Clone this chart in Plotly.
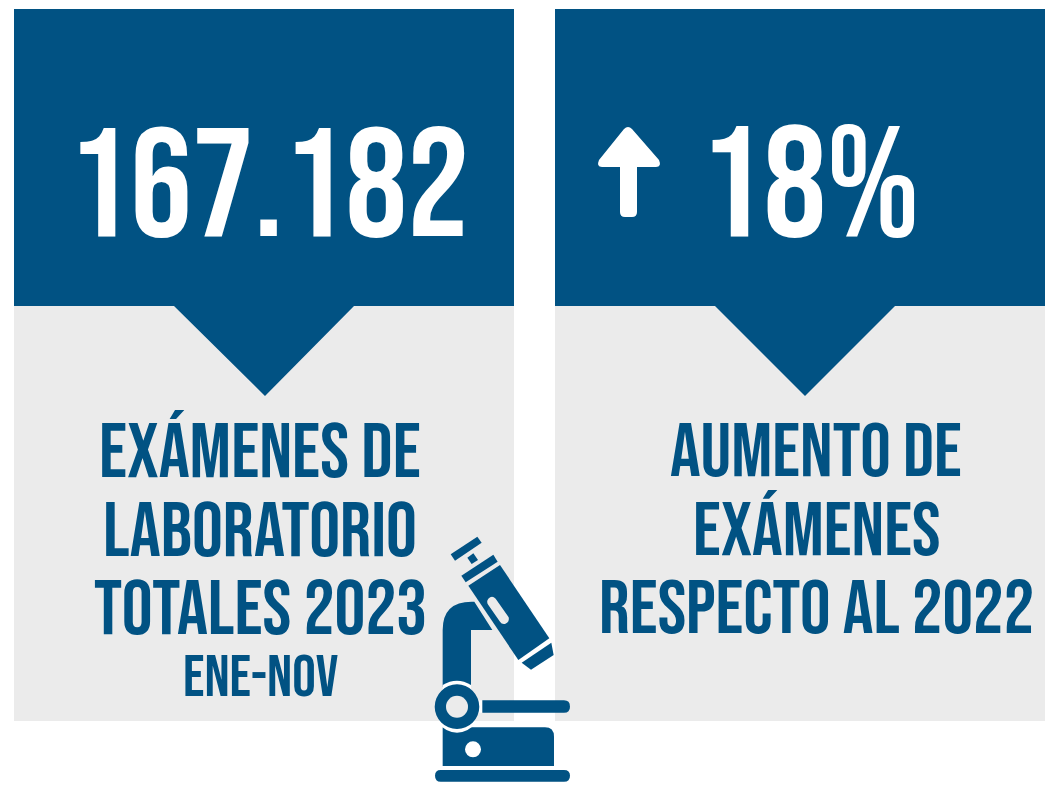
import plotly.graph_objects as go

BIG_VALUES = ["167.182", "18%"]
LEFT_LINES = ["EXÁMENES DE", "LABORATORIO", "TOTALES 2023"]
LEFT_SUB = "ENE-NOV"
RIGHT_LINES = ["AUMENTO DE", "EXÁMENES", "RESPECTO AL 2022"]

BLUE = "#015283"
GRAY = "#EBEBEB"
WHITE = "#FFFFFF"
FONT = "Bebas Neue, Liberation Sans, sans-serif"

fig = go.Figure()
shapes = []


def poly(pts, color):
    d = "M" + " L".join(f"{x},{y}" for x, y in pts) + " Z"
    shapes.append(dict(type="path", path=d, fillcolor=color, line_width=0, xref="x", yref="y", layer="above"))


def path(d, color):
    shapes.append(dict(type="path", path=d, fillcolor=color, line_width=0, xref="x", yref="y", layer="above"))


def circ(cx, cy, r, color):
    shapes.append(dict(type="circle", x0=cx - r, x1=cx + r, y0=cy - r, y1=cy + r, fillcolor=color,
                       line_width=0, xref="x", yref="y", layer="above"))


def Z(x, y):
    return (round(420 + x / 3, 2), round(520 + y / 3, 2))


def zpath(parts, color):
    out = []
    for cmd, *pts in parts:
        out.append(cmd + " ".join("%s,%s" % Z(*p) for p in pts))
    path(" ".join(out) + " Z", color)


# panels
poly([(14, 306), (514, 306), (514, 721), (14, 721)], GRAY)
poly([(555, 306), (1045, 306), (1045, 721), (555, 721)], GRAY)
poly([(14, 9), (514, 9), (514, 306), (354, 306), (265, 396), (174, 306), (14, 306)], BLUE)
poly([(555, 9), (1045, 9), (1045, 306), (895, 306), (805, 396), (715, 306), (555, 306)], BLUE)

# arrow
path("M624,129 Q628,125 632,129 L659,160 Q662,167 656,167 L637,167 L637,212 Q637,217 632,217 "
     "L625,217 Q620,217 620,212 L620,167 L602,167 Q596,167 599,160 Z", WHITE)

# microscope
zpath([("M", (68, 500)), ("L", (68, 330)), ("Q", (68, 245), (155, 245)), ("L", (163, 245)), ("L", (217, 330)),
       ("L", (153, 330)), ("L", (153, 500))], BLUE)
zpath([("M", (68, 622)), ("L", (375, 622)), ("Q", (402, 622), (402, 650)), ("L", (402, 738)), ("L", (68, 738))], BLUE)
circ(*Z(159, 688), 8, WHITE)
# thin white cut between the arm and the wheel, and between the base and the wheel
path("M442.67,685 Q457,676.4 471,685 L471,700 L442.67,700 Z", WHITE)
path("M435.3,721 Q457,744.4 478.7,721 Z", WHITE)
poly([(478, 700.3), (482.5, 700.3), (482.5, 712.7), (478, 712.7)], WHITE)
circ(*Z(111, 560), 22.3, BLUE)
circ(*Z(111, 560), 11, GRAY)
zpath([("M", (187, 541)), ("L", (432, 541)), ("Q", (450, 541), (450, 560)), ("Q", (450, 578), (432, 578)),
       ("L", (187, 578))], BLUE)
zpath([("M", (62, 750)), ("L", (432, 750)), ("Q", (450, 750), (450, 767)), ("Q", (450, 785), (432, 785)),
       ("L", (62, 785)), ("Q", (45, 785), (45, 767)), ("Q", (45, 750), (62, 750))], BLUE)
for pts in ([(92, 103), (172, 50), (185, 68), (105, 122)],
            [(142, 113), (160, 100), (174, 120), (155, 132)],
            [(124, 167), (220, 104), (233, 125), (137, 187)],
            [(145, 197), (240, 135), (388, 355), (295, 420)],
            [(305, 428), (394, 368), (401, 405), (333, 449)]):
    poly([Z(*p) for p in pts], BLUE)
zpath([("M", (205, 236)), ("Q", (216, 224), (227, 236)), ("L", (266, 292)), ("Q", (270, 306), (255, 312)),
       ("Q", (245, 314), (240, 305)), ("L", (205, 255)), ("Q", (198, 245), (205, 236))], GRAY)

ann = []


def text(s, x, base, size, color):
    ann.append(dict(text=s, x=x, y=base - size * 0.305, xref="x", yref="y", showarrow=False,
                    xanchor="center", yanchor="middle", font=dict(family=FONT, size=size, color=color)))


fig.add_trace(go.Scatter(x=[0, 1045], y=[0, 785], mode="markers", marker_opacity=0, hoverinfo="skip", showlegend=False))

text(BIG_VALUES[0], 268, 237, 155, WHITE)
text(BIG_VALUES[1], 809, 237, 158, WHITE)
for s, b in zip(LEFT_LINES, [478, 557, 635]):
    text(s, 260, b, 77.2, BLUE)
text(LEFT_SUB, 260, 696, 59, BLUE)
for s, b in zip(RIGHT_LINES, [476, 555, 633]):
    text(s, 816, b, 76.4, BLUE)

fig.update_layout(width=1045, height=785, margin=dict(l=0, r=0, t=0, b=0), paper_bgcolor=WHITE,
                  plot_bgcolor=WHITE, shapes=shapes, annotations=ann, showlegend=False,
                  xaxis=dict(range=[0, 1045], visible=False, fixedrange=True),
                  yaxis=dict(range=[785, 0], visible=False, fixedrange=True))
fig.write_html("out.html", config=dict(displayModeBar=False), post_script="document.body.style.margin='0';")
